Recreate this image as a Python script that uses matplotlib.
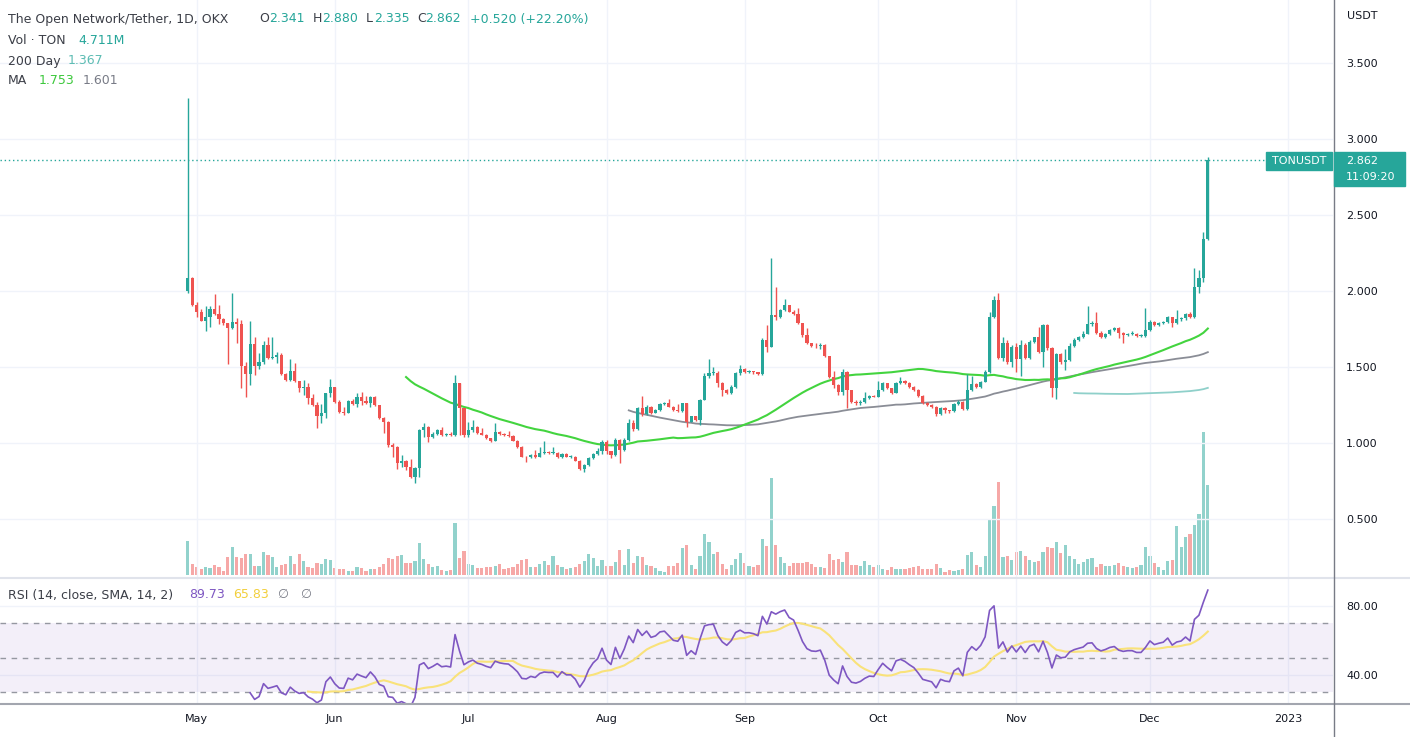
import numpy as np
import pandas as pd
import matplotlib
matplotlib.use('Agg')
import matplotlib.pyplot as plt
import matplotlib.dates as mdates
from matplotlib.patches import Rectangle
from matplotlib.lines import Line2D

# daily TON/USDT candles, 29 Apr 2022 - 14 Dec 2022 (OKX)
first_open = 2.00
closes = [
    2.083, 1.908, 1.860, 1.805, 1.830, 1.880, 1.850, 1.814, 1.787, 1.754,
    1.796, 1.780, 1.506, 1.454, 1.651, 1.506, 1.530, 1.645, 1.557, 1.568,
    1.580, 1.454, 1.414, 1.476, 1.408, 1.364, 1.370, 1.294, 1.250, 1.177,
    1.195, 1.327, 1.366, 1.272, 1.206, 1.200, 1.278, 1.256, 1.300, 1.278,
    1.260, 1.300, 1.250, 1.162, 1.140, 0.987, 0.976, 0.870, 0.880, 0.840,
    0.778, 0.833, 1.085, 1.107, 1.040, 1.060, 1.085, 1.053, 1.058, 1.050,
    1.393, 1.228, 1.050, 1.085, 1.107, 1.068, 1.053, 1.030, 1.015, 1.075,
    1.058, 1.050, 1.046, 1.015, 0.976, 0.910, 0.905, 0.920, 0.910, 0.932,
    0.940, 0.937, 0.937, 0.906, 0.930, 0.910, 0.910, 0.884, 0.830, 0.855,
    0.899, 0.930, 0.950, 1.005, 0.945, 0.920, 1.020, 0.955, 1.020, 1.130,
    1.090, 1.228, 1.190, 1.240, 1.200, 1.215, 1.257, 1.265, 1.240, 1.215,
    1.210, 1.260, 1.140, 1.175, 1.150, 1.283, 1.440, 1.458, 1.463, 1.393,
    1.350, 1.327, 1.371, 1.458, 1.485, 1.469, 1.470, 1.465, 1.455, 1.678,
    1.634, 1.842, 1.827, 1.875, 1.908, 1.864, 1.849, 1.787, 1.710, 1.656,
    1.638, 1.635, 1.645, 1.572, 1.436, 1.382, 1.338, 1.470, 1.349, 1.272,
    1.260, 1.272, 1.294, 1.309, 1.305, 1.350, 1.393, 1.360, 1.331, 1.397,
    1.408, 1.393, 1.370, 1.350, 1.310, 1.260, 1.250, 1.240, 1.190, 1.228,
    1.215, 1.210, 1.257, 1.270, 1.222, 1.350, 1.390, 1.370, 1.403, 1.469,
    1.830, 1.941, 1.557, 1.660, 1.530, 1.630, 1.550, 1.645, 1.560, 1.666,
    1.695, 1.600, 1.776, 1.623, 1.360, 1.585, 1.535, 1.545, 1.638, 1.677,
    1.700, 1.720, 1.783, 1.790, 1.726, 1.699, 1.717, 1.743, 1.754, 1.721,
    1.710, 1.717, 1.717, 1.704, 1.704, 1.743, 1.798, 1.776, 1.787, 1.795,
    1.827, 1.791, 1.813, 1.820, 1.848, 1.831, 2.028, 2.083, 2.341, 2.862,
]
highs = [
    3.27, 2.09, 1.93, 1.88, 1.90, 1.90, 1.98, 1.91, 1.82, 1.79,
    1.99, 1.82, 1.81, 1.53, 1.80, 1.70, 1.59, 1.67, 1.70, 1.695,
    1.60, 1.594, 1.46, 1.55, 1.524, 1.41, 1.414, 1.392, 1.32, 1.27,
    1.256, 1.331, 1.421, 1.37, 1.28, 1.239, 1.285, 1.29, 1.327, 1.338,
    1.31, 1.31, 1.31, 1.25, 1.17, 1.145, 1.00, 0.98, 0.92, 0.885,
    0.892, 0.84, 1.09, 1.134, 1.11, 1.07, 1.09, 1.107, 1.065, 1.075,
    1.447, 1.395, 1.23, 1.14, 1.15, 1.11, 1.096, 1.06, 1.035, 1.13,
    1.08, 1.065, 1.08, 1.05, 1.02, 0.98, 0.915, 0.93, 0.954, 0.976,
    1.01, 0.95, 0.976, 0.94, 0.935, 0.935, 0.92, 0.915, 0.89, 0.86,
    0.905, 0.935, 0.97, 1.02, 1.02, 0.95, 1.03, 1.025, 1.03, 1.16,
    1.15, 1.24, 1.31, 1.25, 1.245, 1.225, 1.265, 1.27, 1.29, 1.245,
    1.257, 1.265, 1.265, 1.18, 1.18, 1.29, 1.46, 1.55, 1.50, 1.476,
    1.40, 1.355, 1.38, 1.465, 1.513, 1.491, 1.48, 1.475, 1.47, 1.69,
    1.776, 2.215, 2.024, 1.88, 1.945, 1.91, 1.875, 1.886, 1.79, 1.754,
    1.66, 1.66, 1.66, 1.65, 1.575, 1.476, 1.39, 1.49, 1.475, 1.35,
    1.28, 1.28, 1.338, 1.315, 1.315, 1.41, 1.40, 1.397, 1.365, 1.40,
    1.436, 1.415, 1.40, 1.375, 1.355, 1.315, 1.27, 1.255, 1.245, 1.235,
    1.235, 1.22, 1.262, 1.28, 1.275, 1.454, 1.441, 1.395, 1.41, 1.48,
    1.864, 1.967, 1.985, 1.70, 1.68, 1.645, 1.66, 1.68, 1.66, 1.675,
    1.70, 1.76, 1.78, 1.78, 1.63, 1.59, 1.59, 1.62, 1.655, 1.69,
    1.705, 1.735, 1.899, 1.80, 1.86, 1.735, 1.725, 1.75, 1.765, 1.76,
    1.73, 1.725, 1.735, 1.725, 1.715, 1.886, 1.81, 1.805, 1.795, 1.80,
    1.835, 1.83, 1.875, 1.83, 1.855, 1.86, 2.149, 2.138, 2.39, 2.880,
]
lows = [
    1.99, 1.90, 1.83, 1.80, 1.74, 1.76, 1.845, 1.78, 1.775, 1.52,
    1.75, 1.656, 1.36, 1.30, 1.38, 1.45, 1.49, 1.52, 1.55, 1.55,
    1.528, 1.45, 1.41, 1.41, 1.40, 1.338, 1.316, 1.256, 1.245, 1.10,
    1.134, 1.162, 1.30, 1.265, 1.20, 1.184, 1.195, 1.25, 1.235, 1.25,
    1.255, 1.235, 1.245, 1.155, 1.068, 0.976, 0.91, 0.827, 0.845, 0.822,
    0.767, 0.735, 0.778, 1.04, 1.008, 1.03, 1.05, 1.048, 1.045, 1.045,
    1.045, 1.05, 1.04, 1.04, 1.07, 1.06, 1.05, 1.025, 1.008, 1.01,
    1.05, 1.045, 1.04, 1.01, 0.965, 0.905, 0.877, 0.90, 0.90, 0.905,
    0.925, 0.93, 0.93, 0.90, 0.90, 0.905, 0.90, 0.88, 0.822, 0.81,
    0.85, 0.895, 0.92, 0.93, 0.93, 0.90, 0.915, 0.87, 0.95, 1.01,
    1.08, 1.085, 1.18, 1.185, 1.19, 1.195, 1.21, 1.25, 1.235, 1.21,
    1.205, 1.205, 1.107, 1.135, 1.145, 1.12, 1.28, 1.43, 1.45, 1.37,
    1.31, 1.32, 1.32, 1.365, 1.45, 1.46, 1.46, 1.455, 1.445, 1.45,
    1.60, 1.63, 1.81, 1.82, 1.87, 1.86, 1.84, 1.78, 1.70, 1.65,
    1.63, 1.625, 1.62, 1.565, 1.43, 1.36, 1.316, 1.316, 1.228, 1.265,
    1.25, 1.25, 1.265, 1.29, 1.30, 1.30, 1.345, 1.355, 1.325, 1.33,
    1.39, 1.385, 1.365, 1.34, 1.30, 1.255, 1.245, 1.23, 1.178, 1.185,
    1.20, 1.20, 1.205, 1.25, 1.215, 1.215, 1.34, 1.36, 1.365, 1.40,
    1.46, 1.82, 1.55, 1.54, 1.52, 1.50, 1.47, 1.44, 1.55, 1.555,
    1.66, 1.59, 1.50, 1.615, 1.30, 1.29, 1.52, 1.48, 1.54, 1.63,
    1.67, 1.69, 1.715, 1.77, 1.72, 1.69, 1.69, 1.71, 1.735, 1.69,
    1.655, 1.705, 1.71, 1.70, 1.695, 1.70, 1.74, 1.77, 1.77, 1.78,
    1.79, 1.76, 1.785, 1.805, 1.81, 1.82, 1.825, 1.99, 2.06, 2.335,
]
# volume in millions of TON
volumes = [
    1.80, 0.58, 0.40, 0.30, 0.44, 0.35, 0.52, 0.44, 0.23, 0.96,
    1.48, 0.92, 0.90, 1.10, 1.10, 0.49, 0.49, 1.19, 1.05, 0.92,
    0.40, 0.52, 0.58, 0.99, 0.58, 1.10, 0.75, 0.40, 0.35, 0.61,
    0.58, 0.82, 0.79, 0.35, 0.31, 0.31, 0.23, 0.23, 0.44, 0.35,
    0.23, 0.31, 0.31, 0.40, 0.56, 0.87, 0.84, 1.00, 1.05, 0.65,
    0.61, 0.75, 1.66, 0.86, 0.58, 0.44, 0.47, 0.26, 0.23, 0.26,
    2.74, 0.87, 1.27, 0.58, 0.52, 0.35, 0.35, 0.40, 0.40, 0.47,
    0.58, 0.30, 0.35, 0.40, 0.58, 0.79, 0.82, 0.44, 0.40, 0.58,
    0.75, 0.52, 0.99, 0.52, 0.44, 0.30, 0.35, 0.44, 0.58, 0.75,
    1.08, 0.87, 0.47, 0.79, 0.47, 0.47, 0.70, 1.31, 0.52, 1.34,
    0.65, 0.99, 0.92, 0.52, 0.47, 0.35, 0.23, 0.17, 0.47, 0.47,
    0.61, 1.40, 1.57, 0.52, 0.30, 0.99, 2.13, 1.71, 1.10, 1.22,
    0.58, 0.30, 0.52, 0.82, 1.13, 0.61, 0.47, 0.40, 0.52, 1.90,
    1.54, 5.06, 1.57, 0.92, 0.61, 0.47, 0.65, 0.61, 0.61, 0.70,
    0.58, 0.42, 0.40, 0.35, 1.10, 0.79, 0.82, 0.70, 1.22, 0.52,
    0.52, 0.47, 0.75, 0.52, 0.44, 0.52, 0.30, 0.26, 0.40, 0.31,
    0.31, 0.30, 0.35, 0.40, 0.47, 0.31, 0.31, 0.30, 0.58, 0.35,
    0.17, 0.26, 0.23, 0.26, 0.30, 1.05, 1.22, 0.52, 0.44, 0.99,
    2.91, 3.61, 4.89, 0.96, 0.99, 0.80, 1.20, 1.25, 1.00, 0.80,
    0.68, 0.73, 1.20, 1.48, 1.43, 1.73, 1.17, 1.57, 0.99, 0.82,
    0.56, 0.68, 0.82, 0.91, 0.40, 0.56, 0.47, 0.47, 0.52, 0.65,
    0.47, 0.40, 0.35, 0.44, 0.52, 1.48, 0.99, 0.65, 0.40, 0.26,
    0.73, 0.79, 2.57, 1.48, 1.97, 2.13, 2.62, 3.19, 7.50, 4.711,
]

month_starts = ['2022-05-01', '2022-06-01', '2022-07-01', '2022-08-01', '2022-09-01',
                '2022-10-01', '2022-11-01', '2022-12-01', '2023-01-01']
month_labels = ['May', 'Jun', 'Jul', 'Aug', 'Sep', 'Oct', 'Nov', 'Dec', '2023']
price_ticks = [0.5, 1.0, 1.5, 2.0, 2.5, 3.0, 3.5]
rsi_ticks = [40, 80]

UP = '#26a69a'
DOWN = '#ef5350'
GRID = '#f0f3fa'
TXT = '#131722'

dates = pd.date_range('2022-04-29', periods=len(closes), freq='D')
x = mdates.date2num(dates)
c = np.array(closes)
o = np.array([first_open] + closes[:-1])
h = np.array(highs)
l = np.array(lows)
v = np.array(volumes)
up = c >= o

s = pd.Series(c)
ma50 = s.rolling(50).mean()
ma100 = s.rolling(100).mean()
ma200 = s.rolling(200).mean()

# RSI 14 with Wilder smoothing, plus SMA 14 of it
d = s.diff().values
gain = np.where(d > 0, d, 0.0)
loss = np.where(d < 0, -d, 0.0)
n = 14
ag = np.full(len(c), np.nan)
al = np.full(len(c), np.nan)
ag[n] = gain[1:n + 1].mean()
al[n] = loss[1:n + 1].mean()
for i in range(n + 1, len(c)):
    ag[i] = (ag[i - 1] * (n - 1) + gain[i]) / n
    al[i] = (al[i - 1] * (n - 1) + loss[i]) / n
rsi = 100 - 100 / (1 + ag / al)
rsi_sma = pd.Series(rsi).rolling(14).mean()

W, H = 1410, 737
fig = plt.figure(figsize=(W / 100, H / 100), dpi=100)
fig.patch.set_facecolor('white')

may1 = mdates.date2num(pd.Timestamp('2022-05-01'))
xlim = (may1 - 44.16, may1 + 255.1)
mticks = mdates.date2num(pd.to_datetime(month_starts))

rect_main = [0, 1 - 577 / H, 1333 / W, 577 / H]
axv = fig.add_axes(rect_main)
ax = fig.add_axes(rect_main)
ax.patch.set_visible(False)

# volume (behind)
axv.bar(x[up], v[up], width=0.72, color=UP, alpha=0.5, linewidth=0)
axv.bar(x[~up], v[~up], width=0.72, color=DOWN, alpha=0.5, linewidth=0)
axv.set_ylim(-2 / 19.1, 575 / 19.1)
axv.set_xlim(*xlim)
axv.set_xticks(mticks)
axv.set_yticks(price_ticks)
axv.set_ylim(-2 / 19.1, 575 / 19.1)
axv.tick_params(length=0, labelbottom=False, labelleft=False)
axv.grid(False)
for sp in axv.spines.values():
    sp.set_visible(False)

# grid on the front axes
ax.set_xlim(*xlim)
ax.set_ylim(0.1184, 3.9145)
ax.set_xticks(mticks)
ax.set_yticks(price_ticks)
ax.grid(True, color=GRID, lw=1, zorder=0)
ax.set_axisbelow(True)
ax.yaxis.tick_right()
ax.set_yticklabels(['%.3f' % t for t in price_ticks])
ax.tick_params(axis='y', length=0, pad=9.4, labelsize=8, labelcolor=TXT)
ax.tick_params(axis='x', length=0, labelbottom=False)
for sp in ax.spines.values():
    sp.set_visible(False)

# candles
colors = np.where(up, UP, DOWN)
ax.vlines(x, l, h, colors=colors, lw=1, zorder=3)
body = np.maximum(np.abs(c - o), 0.006)
ax.bar(x, body, bottom=np.minimum(o, c), width=0.72, color=colors, linewidth=0, zorder=4)

# moving averages
ax.plot(x, ma200, color='#8fd0ca', lw=1.3, zorder=2)
ax.plot(x, ma100, color='#8a8d96', lw=1.3, zorder=2)
ax.plot(x, ma50, color='#43d43f', lw=1.5, zorder=2)

# last price dotted line
ax.axhline(c[-1], color=UP, lw=1, ls=(0, (1, 2)), zorder=1)

# RSI pane
axr = fig.add_axes([0, 1 - 703 / H, 1333 / W, 126 / H])
axr.set_xlim(*xlim)
axr.set_ylim(23.72, 96.98)
axr.axhspan(30, 70, color='#7e57c2', alpha=0.09, lw=0)
for lvl in (70, 50, 30):
    axr.axhline(lvl, color='#9598a1', lw=1, ls=(0, (4, 4)))
axr.plot(x, rsi_sma, color='#f9e27a', lw=1.5)
axr.plot(x, rsi, color='#7e57c2', lw=1.2)
axr.set_xticks(mticks)
axr.set_xticklabels(month_labels)
axr.set_yticks(rsi_ticks)
axr.yaxis.tick_right()
axr.set_yticklabels(['%.2f' % t for t in rsi_ticks])
axr.grid(True, color=GRID, lw=1)
axr.set_axisbelow(True)
axr.tick_params(axis='y', length=0, pad=9.4, labelsize=8, labelcolor=TXT)
axr.tick_params(axis='x', length=0, pad=8, labelsize=8, labelcolor=TXT)
for sp in axr.spines.values():
    sp.set_visible(False)

# separators
fig.add_artist(Line2D([0, 1], [1 - 577.5 / H] * 2, color='#e0e3eb', lw=1.5))
fig.add_artist(Line2D([0, 1], [1 - 703.5 / H] * 2, color='#a3a6af', lw=1.5))
fig.add_artist(Line2D([1333.5 / W] * 2, [0, 1], color='#787b86', lw=1))


def t(px, py, s, color=TXT, size=9, **kw):
    fig.text(px / W, 1 - py / H, s, color=color, fontsize=size, va='center', ha='left', **kw)


# top-left legend
t(8, 19, 'The Open Network/Tether, 1D, OKX', color='#3b3e47')
t(259, 19, 'O', color='#3b3e47')
t(269, 19, '2.341', color=UP)
t(313, 19, 'H', color='#3b3e47')
t(322.5, 19, '2.880', color=UP)
t(366, 19, 'L', color='#3b3e47')
t(374, 19, '2.335', color=UP)
t(417, 19, 'C', color='#3b3e47')
t(425.5, 19, '2.862', color=UP)
t(470, 19, '+0.520 (+22.20%)', color=UP)
t(8, 41, 'Vol · TON', color='#3b3e47')
t(78.5, 41, '4.711M', color=UP)
t(8, 61, '200 Day', color='#3b3e47')
t(67.5, 61, '1.367', color='#5cbcb3')
t(8, 80, 'MA', color='#3b3e47')
t(38.5, 80, '1.753', color='#3cc83c')
t(82.5, 80, '1.601', color='#787b86')

# RSI legend
t(8, 595, 'RSI (14, close, SMA, 14, 2)', color='#3b3e47')
t(189.5, 595, '89.73', color='#7e57c2')
t(233, 595, '65.83', color='#f2cf3c')
t(277, 595, '\u2205', color='#787b86')
t(300, 595, '\u2205', color='#787b86')

# price scale header and last price labels
t(1347, 16, 'USDT', size=8)
fig.patches.append(Rectangle((1266 / W, 1 - 170 / H), 66 / W, 18 / H,
                             transform=fig.transFigure, color=UP, zorder=5))
fig.text(1299 / W, 1 - 161 / H, 'TONUSDT', color='white', fontsize=8,
         ha='center', va='center', zorder=6)
fig.patches.append(Rectangle((1334 / W, 1 - 186 / H), 71 / W, 34 / H,
                             transform=fig.transFigure, color=UP, zorder=5))
t(1346, 161, '2.862', color='white', size=8, zorder=6)
t(1346, 177, '11:09:20', color='white', size=8, zorder=6)

fig.savefig('out.png', dpi=100, facecolor='white')
